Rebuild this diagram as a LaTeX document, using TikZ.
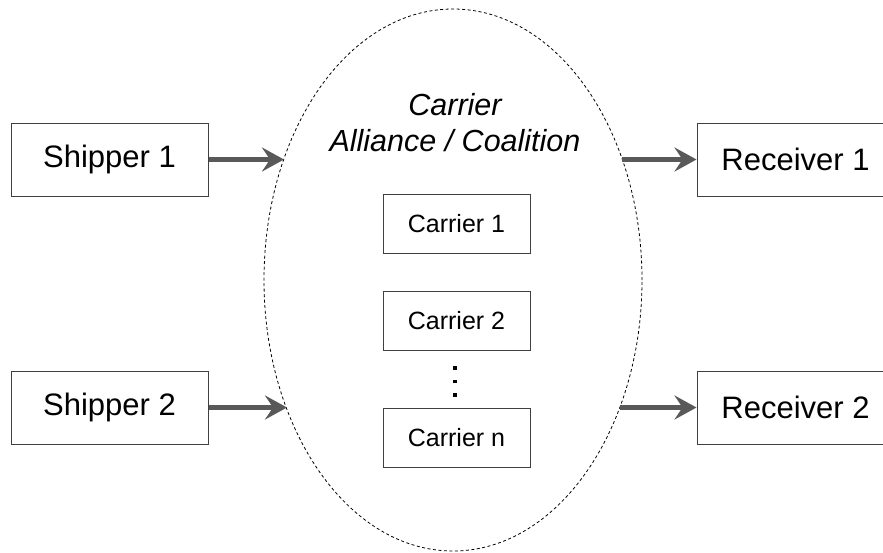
\documentclass[tikz,border=0pt]{standalone}
\usepackage{fontspec}
\setmainfont{Liberation Sans}
\usetikzlibrary{arrows.meta,shapes.geometric}
\begin{document}
\begin{tikzpicture}[x=1pt,y=-1pt,
  bigbox/.style={draw=black!75,line width=1pt,minimum width=197pt,minimum height=73pt,inner sep=0pt,font=\fontsize{31}{35}\selectfont},
  carbox/.style={draw=black!75,line width=1pt,minimum width=147pt,minimum height=59pt,inner sep=0pt,font=\fontsize{25}{29}\selectfont},
  flow/.style={draw=black!65,line width=5pt,-{Stealth[length=22pt,width=24pt,inset=8pt]}},
  dotsq/.style={fill=black,minimum size=3.5pt,inner sep=0pt}]
\useasboundingbox (0,0) rectangle (883,552);
\node[ellipse,draw,dashed,dash pattern=on 3pt off 2.5pt,line width=0.8pt,minimum width=378pt,minimum height=542pt,inner sep=0pt] (alliance) at (453,280) {};
\node[font=\fontsize{30.5}{36}\selectfont\itshape,align=center] (title) at (455,123) {Carrier\\Alliance / Coalition};
\node[bigbox] (s1) at (109.5,159.5) {Shipper 1};
\node[bigbox] (s2) at (109.5,407.5) {Shipper 2};
\node[bigbox] (r1) at (795.5,159.5) {Receiver 1};
\node[bigbox] (r2) at (795.5,407.5) {Receiver 2};
\node[carbox] (c1) at (456.5,223.5) {Carrier 1};
\node[carbox] (c2) at (456.5,320.5) {Carrier 2};
\node[carbox] (cn) at (456.5,437.5) {Carrier n};
\node[dotsq] (d1) at (455,368) {};
\node[dotsq] (d2) at (455,381.5) {};
\node[dotsq] (d3) at (455,395) {};
\coordinate (t1) at (284,159.5);
\coordinate (t2) at (287,407.5);
\coordinate (u1) at (622,159.5);
\coordinate (u2) at (620,407.5);
\draw[flow] (s1.east) -- (t1);
\draw[flow] (s2.east) -- (t2);
\draw[flow] (u1) -- (r1.west);
\draw[flow] (u2) -- (r2.west);
\end{tikzpicture}
\end{document}
